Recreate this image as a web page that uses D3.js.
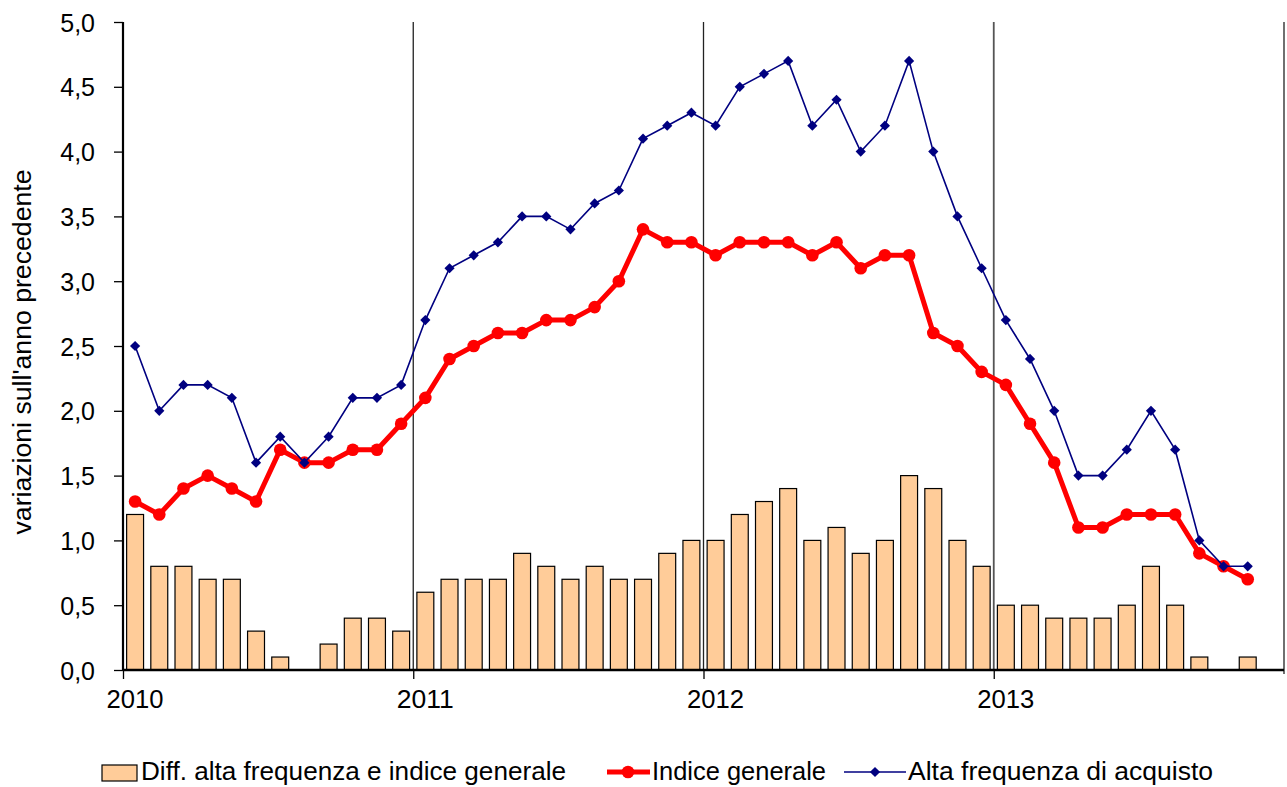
<!DOCTYPE html>
<html>
<head>
<meta charset="utf-8">
<script src="https://cdn.jsdelivr.net/npm/d3@7"></script>
<style>
  html, body { margin: 0; padding: 0; background: #fff; }
  svg { display: block; }
  text { font-family: "Liberation Sans", Arial, sans-serif; fill: #000; }
</style>
</head>
<body>
<svg id="chart" width="1287" height="787"></svg>
<script>
// ---- data ----
const months = [
  "2010-01","2010-02","2010-03","2010-04","2010-05","2010-06","2010-07","2010-08","2010-09","2010-10","2010-11","2010-12",
  "2011-01","2011-02","2011-03","2011-04","2011-05","2011-06","2011-07","2011-08","2011-09","2011-10","2011-11","2011-12",
  "2012-01","2012-02","2012-03","2012-04","2012-05","2012-06","2012-07","2012-08","2012-09","2012-10","2012-11","2012-12",
  "2013-01","2013-02","2013-03","2013-04","2013-05","2013-06","2013-07","2013-08","2013-09","2013-10","2013-11","2013-12"
];
const indiceGenerale = [
  1.3,1.2,1.4,1.5,1.4,1.3,1.7,1.6,1.6,1.7,1.7,1.9,
  2.1,2.4,2.5,2.6,2.6,2.7,2.7,2.8,3.0,3.4,3.3,3.3,
  3.2,3.3,3.3,3.3,3.2,3.3,3.1,3.2,3.2,2.6,2.5,2.3,
  2.2,1.9,1.6,1.1,1.1,1.2,1.2,1.2,0.9,0.8,0.7
];
const altaFrequenza = [
  2.5,2.0,2.2,2.2,2.1,1.6,1.8,1.6,1.8,2.1,2.1,2.2,
  2.7,3.1,3.2,3.3,3.5,3.5,3.4,3.6,3.7,4.1,4.2,4.3,
  4.2,4.5,4.6,4.7,4.2,4.4,4.0,4.2,4.7,4.0,3.5,3.1,
  2.7,2.4,2.0,1.5,1.5,1.7,2.0,1.7,1.0,0.8,0.8
];
const differenza = [
  1.2,0.8,0.8,0.7,0.7,0.3,0.1,0.0,0.2,0.4,0.4,0.3,
  0.6,0.7,0.7,0.7,0.9,0.8,0.7,0.8,0.7,0.7,0.9,1.0,
  1.0,1.2,1.3,1.4,1.0,1.1,0.9,1.0,1.5,1.4,1.0,0.8,
  0.5,0.5,0.4,0.4,0.4,0.5,0.8,0.5,0.1,0.0,0.1
];
const yearTicks = [2010, 2011, 2012, 2013];
const yearLabelMonths = ["2010-01", "2011-01", "2012-01", "2013-01"];
const yTicks = [0,0.5,1,1.5,2,2.5,3,3.5,4,4.5,5];
const yLabel = "variazioni sull'anno precedente";
const legendLabels = ["Diff. alta frequenza e indice generale", "Indice generale", "Alta frequenza di acquisto"];

// ---- layout ----
const svg = d3.select("#chart");
const L = 123, R = 1284, T = 22, B = 670;

const x = d3.scaleBand().domain(months).range([L, R]).paddingInner(0.3).paddingOuter(0.15);
const xc = d => x(d) + x.bandwidth() / 2;
const xYear = d3.scaleLinear().domain([2010, 2014]).range([L, R]);
const y = d3.scaleLinear().domain([0, 5]).range([B, T]);
const fmt = d => d3.format(".1f")(d).replace(".", ",");

// year separator lines
svg.append("g").selectAll("line").data([2011, 2012, 2013, 2014]).join("line")
  .attr("x1", d => xYear(d)).attr("x2", d => xYear(d))
  .attr("y1", T).attr("y2", d => d === 2014 ? B + 4 : B)
  .attr("stroke", d => d === 2013 ? "#555" : "#222")
  .attr("stroke-width", d => d === 2013 ? 1.8 : 1.3);

// bars
svg.append("g").selectAll("rect").data(differenza).join("rect")
  .attr("x", (d, i) => x(months[i]))
  .attr("width", x.bandwidth())
  .attr("y", d => y(d))
  .attr("height", d => B - y(d))
  .attr("fill", "#FFCC99")
  .attr("stroke", d => d > 0 ? "#000" : "none")
  .attr("stroke-width", 1.2);

// y axis
const yAxis = d3.axisLeft(y).tickValues(yTicks).tickFormat(fmt).tickSize(9).tickPadding(19);
const gy = svg.append("g").attr("transform", `translate(${L},0)`).call(yAxis);
gy.select(".domain").attr("stroke", "#000").attr("stroke-width", 2.2).attr("d", `M0,${T}V${B}`);
gy.selectAll(".tick line").attr("stroke", "#000").attr("stroke-width", 1.3);
gy.selectAll(".tick text").attr("font-size", 25).attr("fill", "#000").attr("dy", "0.36em")
  .style("font-family", '"Liberation Sans", Arial, sans-serif');

// x axis (ticks at year boundaries, labels centred on January)
const xAxis = d3.axisBottom(xYear).tickValues(yearTicks).tickFormat("").tickSize(9);
const gx = svg.append("g").attr("transform", `translate(0,${B})`).call(xAxis);
gx.select(".domain").attr("stroke", "#000").attr("stroke-width", 2.6).attr("d", `M${L},0H${R}`);
gx.selectAll(".tick line").attr("stroke", "#000").attr("stroke-width", 1.3);
svg.append("g").selectAll("text").data(yearTicks).join("text")
  .attr("x", (d, i) => xc(yearLabelMonths[i]))
  .attr("y", 708)
  .attr("text-anchor", "middle")
  .attr("font-size", 26)
  .attr("textLength", 57).attr("lengthAdjust", "spacingAndGlyphs")
  .text(d => d);

// y label
svg.append("text")
  .attr("transform", `translate(31,352) rotate(-90)`)
  .attr("text-anchor", "middle")
  .attr("font-size", 26)
  .attr("textLength", 365).attr("lengthAdjust", "spacingAndGlyphs")
  .text(yLabel);

// red line
const lineGen = d3.line().x((d, i) => xc(months[i])).y(d => y(d));
svg.append("path").datum(indiceGenerale)
  .attr("d", lineGen).attr("fill", "none").attr("stroke", "#FF0000").attr("stroke-width", 5)
  .attr("stroke-linejoin", "round");
svg.append("g").selectAll("circle").data(indiceGenerale).join("circle")
  .attr("cx", (d, i) => xc(months[i])).attr("cy", d => y(d)).attr("r", 6.3).attr("fill", "#FF0000");

// blue line
svg.append("path").datum(altaFrequenza)
  .attr("d", lineGen).attr("fill", "none").attr("stroke", "#000080").attr("stroke-width", 1.6);
svg.append("g").selectAll("path").data(altaFrequenza).join("path")
  .attr("transform", (d, i) => `translate(${xc(months[i])},${y(d)}) rotate(45)`)
  .attr("d", d3.symbol().type(d3.symbolSquare).size(52)).attr("fill", "#000080");

// legend
const lg = svg.append("g");
const ly = 772;
lg.append("rect").attr("x", 102).attr("y", 765).attr("width", 35).attr("height", 16)
  .attr("fill", "#FFCC99").attr("stroke", "#000").attr("stroke-width", 1.2);
lg.append("text").attr("x", 141).attr("y", 780).attr("font-size", 26)
  .attr("textLength", 425).attr("lengthAdjust", "spacingAndGlyphs").text(legendLabels[0]);

lg.append("line").attr("x1", 607).attr("x2", 650).attr("y1", ly).attr("y2", ly)
  .attr("stroke", "#FF0000").attr("stroke-width", 5);
lg.append("circle").attr("cx", 628).attr("cy", ly).attr("r", 6.3).attr("fill", "#FF0000");
lg.append("text").attr("x", 652).attr("y", 780).attr("font-size", 26)
  .attr("textLength", 174).attr("lengthAdjust", "spacingAndGlyphs").text(legendLabels[1]);

lg.append("line").attr("x1", 844).attr("x2", 906).attr("y1", ly).attr("y2", ly)
  .attr("stroke", "#000080").attr("stroke-width", 1.6);
lg.append("path").attr("transform", `translate(875,${ly}) rotate(45)`)
  .attr("d", d3.symbol().type(d3.symbolSquare).size(52)).attr("fill", "#000080");
lg.append("text").attr("x", 908).attr("y", 780).attr("font-size", 26)
  .attr("textLength", 305).attr("lengthAdjust", "spacingAndGlyphs").text(legendLabels[2]);
</script>
</body>
</html>
